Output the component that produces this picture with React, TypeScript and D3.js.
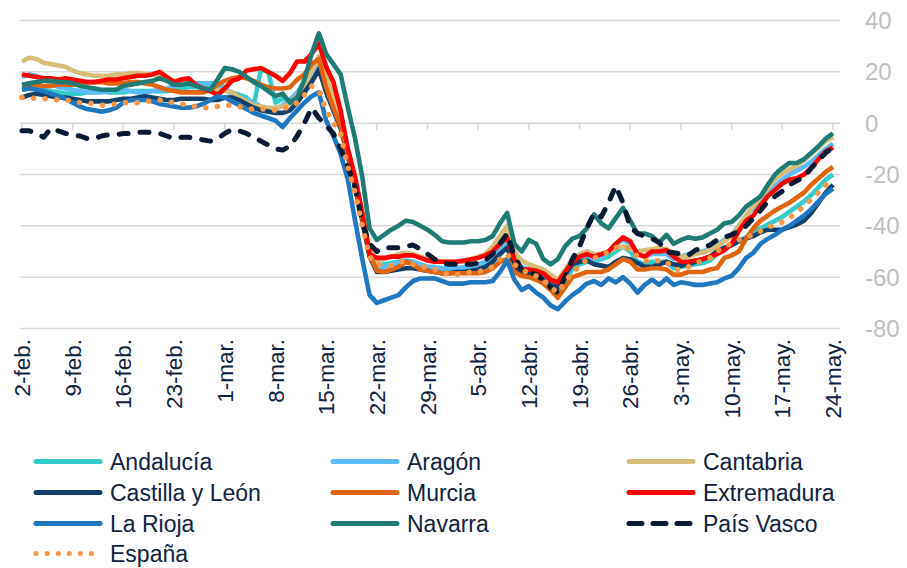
import React, { useEffect, useRef } from 'react'
import * as d3 from 'd3'

const tickLabels = ['2-feb.', '9-feb.', '16-feb.', '23-feb.', '1-mar.', '8-mar.', '15-mar.', '22-mar.',
  '29-mar.', '5-abr.', '12-abr.', '19-abr.', '26-abr.', '3-may.', '10-may.', '17-may.', '24-may.']
const yTicks = [40, 20, 0, -20, -40, -60, -80]

// daily values, 2-feb .. 24-may
const andalucia = [
  13, 13.5, 13.5, 13, 12.5, 12, 11.5,
  11.5, 11.5, 12, 12.5, 12.5, 12, 12,
  12, 12.5, 12.5, 12.5, 12.5, 12.5, 12.5,
  13, 13.5, 14, 14, 14, 14, 13.5,
  13, 12, 11, 10, 7, 21, 20,
  8, 9.5, 9, 11, 15, 19, 22,
  14, 7, 0, -11, -23, -36, -50,
  -56, -55, -54.5, -54, -53.5, -54, -55,
  -56, -56.5, -57, -57, -57, -57, -56.5,
  -56, -55.5, -54, -51, -48, -55, -58,
  -58, -59, -60, -63, -65, -61, -57,
  -55, -54, -54, -53, -52, -50, -48,
  -50, -54, -55, -54, -54, -54, -56.5,
  -56, -55.5, -55, -54.5, -53.5, -51, -49,
  -47.5, -46, -44.5, -42.5, -41, -39.5, -38,
  -36.5, -34.5, -32.5, -30.5, -28, -25, -22,
  -20]
const aragon = [
  18, 19, 18.5, 17, 15.5, 14, 13.5,
  13, 12.5, 12, 12, 12, 12.5, 13,
  13, 12.5, 12, 12, 12.5, 13, 13.5,
  14.5, 15, 15.5, 15.5, 15.5, 15.5, 15.5,
  14, 11, 10, 9, 8, 6.5, 5,
  5.5, 7, 9, 12, 16, 19, 22,
  13, 6, -1, -12, -24, -37, -51,
  -57, -56, -55, -54.5, -54, -54, -55,
  -56, -56, -56.5, -56.5, -56.5, -56, -55.5,
  -55, -54, -52.5, -49, -46, -54, -56,
  -57, -58, -59, -62, -64, -60, -55,
  -53, -52, -53, -52, -50, -47, -45.5,
  -47, -51, -52, -51, -51, -51, -53,
  -52, -51, -50.5, -50, -49, -47.5, -45.5,
  -43.5, -40, -36, -33, -30, -27, -24.5,
  -22, -20, -18.5, -17, -15, -12.5, -10,
  -8]
const cantabria = [
  24, 25.5, 25, 23.5, 23, 22.5, 22,
  20.5, 19.5, 19, 18.5, 18.5, 18.5, 19,
  19, 19.5, 19.5, 19, 19, 18.5, 17,
  16.5, 16, 15.5, 14.5, 13.5, 13, 13,
  12.5, 12, 10, 8.5, 7, 6.5, 6,
  6, 6.5, 7.5, 11, 15, 20, 26,
  18, 10, 2, -10, -22, -36, -49,
  -54, -53, -52, -51, -50.5, -51, -52,
  -53, -53.5, -54, -54, -54, -54, -53,
  -52, -51, -48, -44, -40, -50, -53.5,
  -55, -56, -57, -59, -61, -57, -53,
  -51, -50, -51, -51, -50, -48.5, -48,
  -49, -50, -49.5, -49, -48.5, -49, -51,
  -52, -52, -51, -50.5, -49.5, -48, -46,
  -44, -40, -36, -32, -29, -25.5, -22,
  -19.5, -18, -16.5, -14.5, -12, -9.5, -7,
  -5.5]
const castilla = [
  10, 11, 11.5, 11, 10.5, 10, 10,
  9.5, 9, 8.5, 8.5, 8.5, 8.5, 9,
  9.5, 9.5, 10, 10.5, 10, 9.5, 9,
  9, 9.5, 9.5, 9.5, 9.5, 9, 9,
  10, 10, 9, 7.5, 6, 5, 4.5,
  4, 4, 5, 8, 12, 16, 21,
  12, 5, -2, -13, -25, -38, -52,
  -58, -58, -57.5, -57, -56.5, -56.5, -57,
  -57.5, -58, -58.5, -58.5, -58, -58, -57.5,
  -57, -56, -54, -51, -48.5, -56, -58,
  -58.5, -59, -61, -63, -64, -59, -55,
  -54, -53.5, -55, -55.5, -56, -54, -52.5,
  -53, -54.5, -56, -56, -55, -54, -55,
  -55.5, -55, -54, -53, -52, -50, -48.5,
  -47.5, -46, -45, -44, -42.5, -41.5, -41.5,
  -41.5, -40.5, -39.5, -38, -35, -31, -27,
  -24]
const murcia = [
  14.5, 15, 15, 14.5, 14.5, 15, 15,
  15, 15.5, 16, 16, 16, 15.5, 15.5,
  15.5, 16, 16, 15.5, 15, 14, 13,
  12.5, 12, 12, 12, 12, 13, 15,
  16.5, 17.5, 18, 17.5, 16.5, 15, 14,
  13.5, 13.5, 14, 17, 19, 23, 25,
  14, 6, -1, -12, -24, -37, -51,
  -57.5, -58, -57, -56, -54, -55, -57,
  -57.5, -58, -58.5, -58.5, -58.5, -58.5, -58.5,
  -58.5, -58, -56.5, -54, -53, -58, -59.5,
  -60, -61, -62.5, -65, -68, -64, -60,
  -59, -58, -58, -58, -57, -55, -53,
  -54, -57, -57, -56.5, -56.5, -57, -59,
  -59, -58, -58, -58, -57, -56.5, -52.5,
  -51.5, -50, -45, -41, -38, -36, -34,
  -32.5, -31, -29, -27, -24, -21.5, -19,
  -17]
const extremadura = [
  19, 18.5, 18, 17.5, 17.5, 17, 17.5,
  17, 16.5, 16, 16, 16.5, 17, 17,
  17.5, 18, 18.5, 18.5, 19, 20, 18,
  16, 17, 17.5, 15, 13.5, 12.5, 11,
  13.5, 16.5, 17.5, 20.5, 21, 21.5, 20,
  18.5, 16.5, 19.5, 24, 24, 27, 31,
  22, 16, 5, -10, -21, -35, -51,
  -52.5, -52.5, -52, -52, -51.5, -51.5, -52.5,
  -53.5, -54, -54, -54, -54, -53.5, -53,
  -52.5, -51.5, -50, -47, -44.5, -53, -57,
  -57, -57.5, -58.5, -61, -62, -58, -54,
  -52, -51, -52, -51, -50, -47, -44.5,
  -46, -51, -52, -50, -50, -49.5, -52,
  -54, -54, -53.5, -53, -52, -51, -49.5,
  -47, -42, -38, -36, -32, -28.5, -26,
  -23.5, -22, -21.5, -20, -17.5, -14, -11,
  -9.5]
const rioja = [
  13, 13.5, 13, 12.5, 11.5, 10.5, 9.5,
  8, 6.5, 5.5, 5, 4.5, 5, 6,
  8, 9, 9, 9, 8.5, 7.5, 7,
  6.5, 6, 6, 6.5, 7.5, 9, 10.5,
  10, 8.5, 7, 5.5, 4, 3, 2,
  1, -1.5, 2, 5, 8, 10.5, 12,
  1, -5, -12, -22, -38, -53, -67,
  -70, -69, -68, -67, -64, -61.5, -60.5,
  -60.5, -60.5, -61.5, -62.5, -62.5, -62.5, -62,
  -62, -62, -61.5, -58, -53.5, -61, -65,
  -63.5, -66, -68, -71, -72.5, -69.5, -67,
  -65, -62.5, -61.5, -63, -60.5, -62, -60,
  -62.5, -66, -63, -61, -63, -60.5, -63,
  -62, -62.5, -63, -63, -62.5, -62, -60.5,
  -59.5, -56.5, -52.5, -50.5, -47, -45, -43.5,
  -41.5, -40, -38, -36, -33.5, -30.5, -27.5,
  -25.5]
const navarra = [
  15, 15.5, 16, 16.5, 16.5, 16, 16,
  15.5, 14.5, 14, 13.5, 13, 13, 13,
  14.5, 15, 15.5, 16, 16.5, 17.5, 16.5,
  15, 15, 15.5, 14.5, 13.5, 13, 17,
  21.5, 21, 20, 18, 16, 14.5, 12.5,
  10.5, 11.5, 8, 10, 17, 27, 35,
  27, 23, 19, 6, -6, -21, -41,
  -45.5, -43.5, -41.5, -40, -38, -38.5, -40,
  -41.5, -43.5, -46, -46.5, -46.5, -46.5, -46,
  -46, -45.5, -44, -39, -35, -47, -50,
  -45.5, -47, -53, -55, -53, -48, -45,
  -44, -41, -35.5, -39, -41, -37, -33,
  -38, -43, -43, -44, -46.5, -43.5, -47,
  -45.5, -44.5, -45, -44.5, -43, -41.5, -39,
  -38.5, -36, -32.5, -30.5, -28.5, -24, -20,
  -17.5, -15.5, -15.5, -14, -11.5, -9, -6,
  -4]
const paisVasco = [
  -3, -3, -4, -5.5, -2, -3, -4,
  -4.5, -5, -6, -6, -5, -4.5, -4.5,
  -4, -4, -3.5, -3.5, -3.5, -4, -5,
  -6, -5.5, -5.5, -6, -6.5, -7, -6,
  -4, -2.5, -3, -4, -5.5, -7, -8.5,
  -10, -10.5, -9, -5, 0, 6, 2,
  -1, -4, -10, -17, -25, -39, -47,
  -50, -48.5, -48.5, -48.5, -48, -47.5, -49,
  -51, -53, -54.5, -55, -55, -55, -55,
  -54.5, -53.5, -51, -47, -43, -52, -57,
  -58, -59, -61, -64, -66, -60, -53,
  -48, -41, -35, -36.5, -31, -24.5, -31,
  -40.5, -43, -44, -45, -46.5, -50, -50.5,
  -51, -51.5, -49.5, -48.5, -47.5, -45.5, -44.5,
  -43.5, -42, -40, -37, -34, -30.5, -28.5,
  -26.5, -24, -22.5, -21, -17.5, -14.5, -11.5,
  -9.5]
const espana = [
  10, 10, 9.5, 9.5, 9.5, 9, 9,
  8.5, 8, 8, 7.5, 7, 7, 7.5,
  8, 8, 8, 8.5, 8.5, 9, 8.5,
  8, 7.5, 7, 6.5, 6, 6, 6.5,
  7, 7, 6.5, 5.5, 5.5, 5.5, 5.5,
  5, 5.5, 6.5, 8, 11, 14.5, 13,
  5, 0, -4, -17, -27, -40, -52,
  -55, -55.5, -55.5, -54, -54, -55, -56,
  -56, -57, -58, -59, -59, -58.5, -58,
  -58, -57, -56, -53, -51, -55, -57,
  -58.5, -59.5, -61, -64, -66, -62, -58,
  -56, -53, -52.5, -51.5, -50, -48.5, -48,
  -49, -52, -53.5, -54, -53.5, -54, -57,
  -57, -56, -54.5, -53.5, -52.5, -50, -48,
  -47, -45.5, -45, -43, -42, -40.5, -39.5,
  -38.5, -37, -34.5, -32.5, -29.5, -27, -24,
  -22]

const series = [
  { name: 'Andalucía', values: andalucia, color: '#33CCCC', dash: '' },
  { name: 'Aragón', values: aragon, color: '#5BBCF6', dash: '' },
  { name: 'Cantabria', values: cantabria, color: '#D6BD78', dash: '' },
  { name: 'Castilla y León', values: castilla, color: '#12406A', dash: '' },
  { name: 'Murcia', values: murcia, color: '#E0650E', dash: '' },
  { name: 'Extremadura', values: extremadura, color: '#FF0000', dash: '' },
  { name: 'La Rioja', values: rioja, color: '#1F77C0', dash: '' },
  { name: 'Navarra', values: navarra, color: '#1F7B74', dash: '' },
  { name: 'País Vasco', values: paisVasco, color: '#0A1A33', dash: 'dash' },
  { name: 'España', values: espana, color: '#F79646', dash: 'dot' },
]

const font = '"Liberation Sans", Arial, sans-serif'
const textColor = '#0F2341'

export default function App() {
  const ref = useRef<SVGSVGElement>(null)

  useEffect(() => {
    const svg = d3.select(ref.current)
    svg.selectAll('*').remove()

    const x = d3.scaleLinear().domain([0, 112]).range([22, 833])
    const y = d3.scaleLinear().domain([-80, 40]).range([328.5, 20.5])

    // gridlines
    svg.append('g').selectAll('line').data(yTicks).join('line')
      .attr('x1', 20).attr('x2', 840)
      .attr('y1', d => y(d)).attr('y2', d => y(d))
      .attr('stroke', '#D9D9D9').attr('stroke-width', 1.5)

    svg.append('g').selectAll('text').data(yTicks).join('text')
      .attr('x', 865).attr('y', d => y(d)).attr('dy', '0.36em')
      .attr('font-family', font).attr('font-size', 24).attr('fill', '#BFBFBF')
      .text(d => d)

    // category axis on the zero line
    const ticks = svg.append('g')
    ticks.selectAll('line').data(tickLabels).join('line')
      .attr('x1', (_, i) => x(i * 7)).attr('x2', (_, i) => x(i * 7))
      .attr('y1', y(0)).attr('y2', y(0) + 7)
      .attr('stroke', '#D9D9D9').attr('stroke-width', 1.5)
    ticks.selectAll('text').data(tickLabels).join('text')
      .attr('transform', (_, i) => `translate(${x(i * 7)},339) rotate(-90)`)
      .attr('text-anchor', 'end').attr('dy', '0.36em')
      .attr('font-family', font).attr('font-size', 22.5).attr('fill', textColor)
      .text(d => d)

    const line = d3.line<number>().x((_, i) => x(i)).y(d => y(d))

    const styleLine = (sel: any, s: typeof series[number]) => {
      sel.attr('fill', 'none').attr('stroke', s.color)
        .attr('stroke-linejoin', 'round')
      if (s.dash === 'dot') {
        sel.attr('stroke-width', 5.5).attr('stroke-linecap', 'round').attr('stroke-dasharray', '0.1 11.5')
      } else if (s.dash === 'dash') {
        sel.attr('stroke-width', 5).attr('stroke-linecap', 'round').attr('stroke-dasharray', '9 12')
      } else {
        sel.attr('stroke-width', 4.6)
      }
    }

    const plot = svg.append('g')
    series.forEach(s => {
      plot.append('path').attr('d', line(s.values)).call(styleLine, s)
    })

    // legend
    const cols = [34, 331, 627]
    const rows = [461.5, 492.5, 523.5, 553.5]
    const legend = svg.append('g')
    series.forEach((s, i) => {
      const cx = cols[i % 3]
      const cy = rows[Math.floor(i / 3)]
      legend.append('line')
        .attr('x1', cx + 2).attr('x2', cx + 66).attr('y1', cy).attr('y2', cy)
        .call(styleLine, s)
        .attr('stroke-linecap', 'round')
        .attr('stroke-width', 5)
        .attr('stroke-dasharray', s.dash === 'dot' ? '0.1 11' : s.dash === 'dash' ? '13 11' : null)
      legend.append('text')
        .attr('x', cx + 76).attr('y', cy).attr('dy', '0.36em')
        .attr('font-family', font).attr('font-size', 23).attr('fill', textColor)
        .text(s.name)
    })
  }, [])

  return (
    <svg ref={ref} width={907} height={568}
      style={{ position: 'absolute', left: 0, top: 0, background: '#fff' }} />
  )
}
